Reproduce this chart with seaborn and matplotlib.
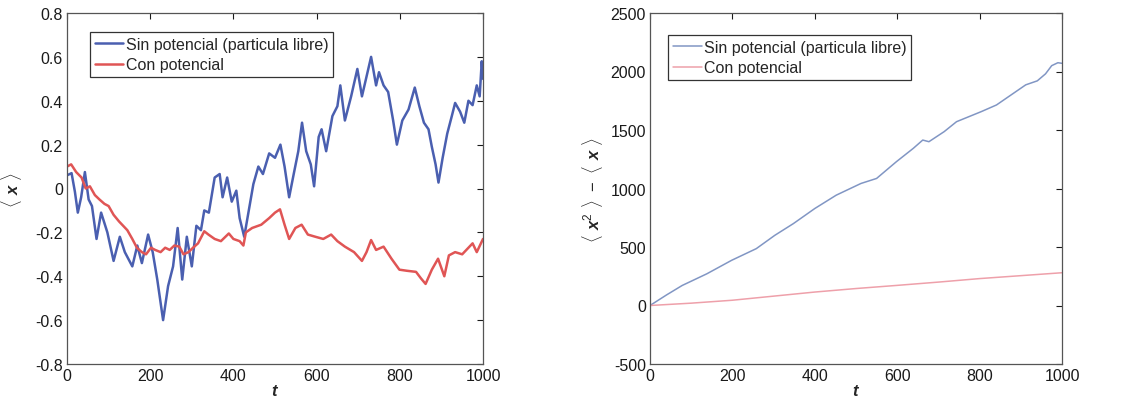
import matplotlib
matplotlib.use("Agg")
import matplotlib.pyplot as plt
import seaborn as sns
import pandas as pd

# Mean position <x>(t): free particle vs. particle in a potential
t_free = [0, 11, 19, 26, 34, 43, 52, 60, 71, 82, 97, 112, 127, 139, 157, 169, 180,
          195, 206, 217, 231, 243, 255, 266, 277, 288, 300, 311, 322, 330, 341, 355,
          367, 374, 385, 396, 407, 415, 426, 437, 448, 460, 471, 486, 500, 513, 523,
          534, 545, 556, 565, 575, 586, 594, 605, 612, 623, 638, 650, 657, 668, 683,
          698, 709, 720, 731, 743, 750, 761, 772, 784, 793, 806, 821, 836, 847, 858,
          869, 877, 886, 893, 903, 914, 925, 933, 945, 955, 965, 975, 985, 992, 997,
          1000]
x_free = [0.06, 0.07, -0.015, -0.11, -0.04, 0.075, -0.05, -0.08, -0.23, -0.11, -0.20,
          -0.33, -0.22, -0.29, -0.355, -0.26, -0.34, -0.21, -0.29, -0.415, -0.60,
          -0.445, -0.355, -0.18, -0.415, -0.22, -0.355, -0.17, -0.19, -0.10, -0.11,
          0.05, 0.066, -0.04, 0.05, -0.06, -0.01, -0.135, -0.22, -0.10, 0.02, 0.10,
          0.066, 0.16, 0.14, 0.20, 0.10, -0.04, 0.066, 0.17, 0.30, 0.17, 0.11, 0.01,
          0.235, 0.27, 0.17, 0.33, 0.375, 0.47, 0.31, 0.42, 0.545, 0.42, 0.51, 0.60,
          0.47, 0.53, 0.47, 0.44, 0.31, 0.20, 0.31, 0.36, 0.46, 0.375, 0.30, 0.27,
          0.19, 0.11, 0.027, 0.14, 0.25, 0.33, 0.39, 0.35, 0.30, 0.40, 0.38, 0.47,
          0.42, 0.58, 0.50]

t_pot = [0, 10, 22, 35, 45, 55, 67, 78, 90, 100, 112, 125, 135, 145, 157, 168, 180,
         190, 202, 212, 225, 236, 247, 258, 270, 280, 292, 303, 315, 330, 340, 355,
         370, 389, 400, 415, 424, 430, 445, 467, 486, 500, 512, 523, 534, 549, 564,
         579, 597, 616, 635, 650, 668, 690, 709, 720, 731, 743, 761, 780, 799, 817,
         839, 851, 862, 877, 892, 907, 918, 933, 950, 965, 975, 985, 1000]
x_pot = [0.10, 0.11, 0.075, 0.05, 0.0, 0.01, -0.03, -0.05, -0.07, -0.08, -0.12, -0.15,
         -0.17, -0.19, -0.23, -0.27, -0.29, -0.30, -0.27, -0.28, -0.29, -0.27, -0.28,
         -0.26, -0.265, -0.30, -0.29, -0.27, -0.25, -0.195, -0.21, -0.23, -0.24,
         -0.205, -0.23, -0.24, -0.26, -0.20, -0.18, -0.165, -0.135, -0.11, -0.095,
         -0.165, -0.23, -0.18, -0.165, -0.21, -0.22, -0.23, -0.21, -0.24, -0.265,
         -0.29, -0.33, -0.29, -0.235, -0.28, -0.265, -0.32, -0.37, -0.375, -0.38,
         -0.41, -0.435, -0.37, -0.32, -0.40, -0.305, -0.29, -0.30, -0.27, -0.25,
         -0.29, -0.23]

# Spread <x^2> - <x>(t)
t_var_free = [0, 40, 78, 138, 198, 258, 303, 348, 400, 452, 512, 550, 598, 639, 662,
              677, 714, 744, 804, 841, 912, 940, 960, 975, 990, 1000]
v_free = [0, 90, 171, 271, 386, 486, 600, 700, 829, 943, 1043, 1086, 1229, 1343, 1414,
          1400, 1486, 1571, 1657, 1714, 1886, 1920, 1980, 2050, 2075, 2070]

t_var_pot = [0, 100, 200, 300, 400, 500, 600, 700, 800, 900, 1000]
v_pot = [0, 20, 45, 80, 115, 145, 172, 200, 230, 255, 280]

lbl_free = "Sin potencial (particula libre)"
lbl_pot = "Con potencial"

sns.set_theme(style="white")
plt.rcParams["font.family"] = ["Liberation Sans", "DejaVu Sans"]
plt.rcParams["axes.unicode_minus"] = False
plt.rcParams["mathtext.fontset"] = "custom"
plt.rcParams["mathtext.rm"] = "Liberation Sans"
plt.rcParams["mathtext.bfit"] = "Liberation Sans:bold:italic"

fig = plt.figure(figsize=(11.27, 4.02), dpi=100)
ax1 = fig.add_axes([67 / 1127, 37 / 402, 416 / 1127, 351 / 402])
ax2 = fig.add_axes([650 / 1127, 37 / 402, 412 / 1127, 351 / 402])

df1a = pd.DataFrame({"t": t_free, "v": x_free})
df1b = pd.DataFrame({"t": t_pot, "v": x_pot})
df2a = pd.DataFrame({"t": t_var_free, "v": v_free})
df2b = pd.DataFrame({"t": t_var_pot, "v": v_pot})

sns.lineplot(data=df1a, x="t", y="v", ax=ax1, color="#4a5fb0", lw=1.8, label=lbl_free)
sns.lineplot(data=df1b, x="t", y="v", ax=ax1, color="#e05555", lw=1.8, label=lbl_pot)
sns.lineplot(data=df2a, x="t", y="v", ax=ax2, color="#8196c4", lw=1.1, label=lbl_free)
sns.lineplot(data=df2b, x="t", y="v", ax=ax2, color="#eea0aa", lw=1.1, label=lbl_pot)

ax1.set_xlim(0, 1000)
ax1.set_ylim(-0.8, 0.8)
ax1.set_yticks([-0.8, -0.6, -0.4, -0.2, 0, 0.2, 0.4, 0.6, 0.8])
ax1.set_yticklabels(["-0.8", "-0.6", "-0.4", "-0.2", "0", "0.2", "0.4", "0.6", "0.8"])
ax2.set_xlim(0, 1000)
ax2.set_ylim(-500, 2500)
ax2.set_yticks([-500, 0, 500, 1000, 1500, 2000, 2500])

legend_anchor = {ax1: (0.055, 0.946), ax2: (0.044, 0.937)}
for ax in (ax1, ax2):
    ax.set_xticks([0, 200, 400, 600, 800, 1000])
    ax.tick_params(direction="in", length=4, width=0.8, top=True, right=True,
                   labelsize=11.5, colors="#1a1a1a", pad=3)
    for s in ax.spines.values():
        s.set_color("#555555")
        s.set_linewidth(0.9)
    ax.set_xlabel(r"$\mathbfit{t}$", fontsize=12, labelpad=0)
    leg = ax.legend(loc="upper left", bbox_to_anchor=legend_anchor[ax], fontsize=11.5,
                    frameon=True, fancybox=False, framealpha=1, edgecolor="#333333",
                    handlelength=1.8, handletextpad=0.15, borderpad=0.3,
                    labelspacing=0.35, borderaxespad=0)
    leg.get_frame().set_linewidth(0.9)

ax1.set_ylabel(r"$\langle\ \mathbfit{x}\ \rangle$", fontsize=12, labelpad=8)
ax2.set_ylabel(r"$\langle\ \mathbfit{x}^{2}\ \rangle\ -\ \langle\ \mathbfit{x}\ \rangle$",
               fontsize=12, labelpad=4)

fig.savefig("out.png", dpi=100)
